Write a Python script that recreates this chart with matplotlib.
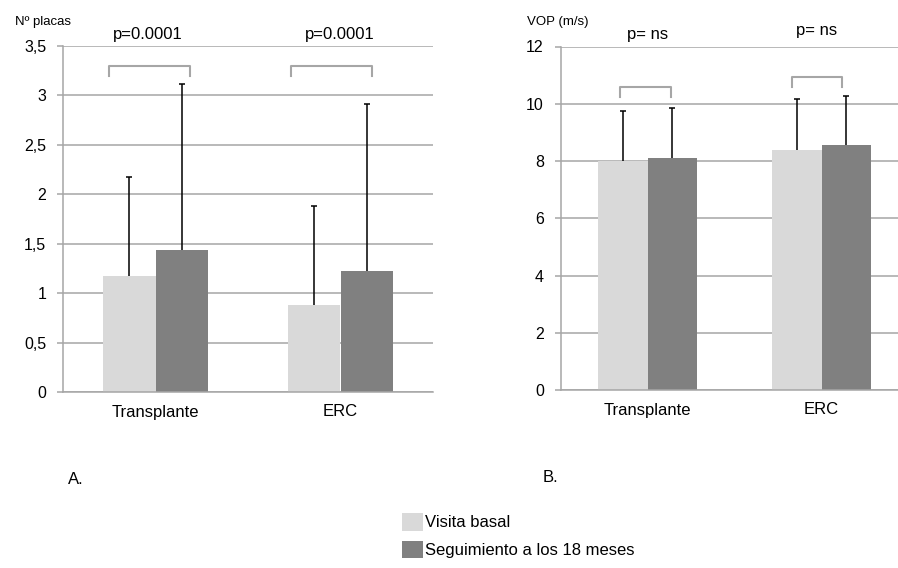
import numpy as np
import matplotlib.pyplot as plt
from matplotlib.patches import Patch

plt.rcParams['font.family'] = ['Liberation Sans', 'DejaVu Sans']

# data
CATEGORIES = ['Transplante', 'ERC']
SERIES = ['Visita basal', 'Seguimiento a los 18 meses']

PLACAS_BASAL = [1.17, 0.88]
PLACAS_18M = [1.44, 1.22]
PLACAS_BASAL_SD = [1.00, 1.00]
PLACAS_18M_SD = [1.68, 1.69]
PLACAS_P = ['p=0.0001', 'p=0.0001']

VOP_BASAL = [8.00, 8.38]
VOP_18M = [8.11, 8.57]
VOP_BASAL_SD = [1.74, 1.77]
VOP_18M_SD = [1.74, 1.70]
VOP_P = ['p= ns', 'p= ns']

LIGHT = '#d9d9d9'
DARK = '#808080'
AXISGREY = '#a6a6a6'
BAR_W = 0.285


def UpperErrorBar(ax, x, y, sd):
    '''
    Error bar drawn only upwards, without the cap at the bar top.
    '''
    eb = ax.errorbar(x, y, yerr=[np.zeros(len(x)), sd], fmt='none',
                     ecolor='black', elinewidth=1.1, capsize=2.5,
                     capthick=1.1, zorder=3)
    eb[1][0].set_visible(False)


def DrawPanel(ax, basal, seg, basalSd, segSd, yMax, yStep, yLabel, pTexts,
              pY, pX, brackets, commaTicks, labelX):
    x = np.arange(len(CATEGORIES))
    ax.bar(x - BAR_W / 2, basal, BAR_W, color=LIGHT, zorder=2)
    ax.bar(x + BAR_W / 2, seg, BAR_W, color=DARK, zorder=2)

    UpperErrorBar(ax, x - BAR_W / 2, basal, basalSd)
    UpperErrorBar(ax, x + BAR_W / 2, seg, segSd)

    # significance brackets
    for (x0, x1, yLow, yHigh) in brackets:
        ax.plot([x0, x0, x1, x1], [yLow, yHigh, yHigh, yLow], color=AXISGREY,
                lw=1.5, clip_on=False, zorder=3)

    for i in range(len(pTexts)):
        ax.text(pX[i], pY[i], pTexts[i], ha='center', va='center',
                fontsize=12, clip_on=False)

    ax.set_xlim(-0.5, len(CATEGORIES) - 0.5)
    ax.set_ylim(0, yMax)
    ticks = np.arange(0, yMax + yStep / 2, yStep)
    ax.set_yticks(ticks)
    if commaTicks:
        ax.set_yticklabels([('%g' % t).replace('.', ',') for t in ticks])
    ax.set_xticks(x)
    ax.set_xticklabels(CATEGORIES, fontsize=12)

    ax.grid(axis='y', color=AXISGREY, lw=1.1, zorder=0)
    ax.set_axisbelow(True)
    for s in ['top', 'right']:
        ax.spines[s].set_visible(False)
    for s in ['left', 'bottom']:
        ax.spines[s].set_color(AXISGREY)
        ax.spines[s].set_linewidth(1.1)
    ax.tick_params(axis='y', length=4, width=1.1, color=AXISGREY, pad=8,
                   labelsize=11.5)
    ax.tick_params(axis='x', length=0, pad=9)
    ax.text(labelX, 1.07, yLabel, transform=ax.transAxes, fontsize=9.5,
            ha='left', va='center')


fig = plt.figure(figsize=(8.98, 5.68), dpi=100)

axA = fig.add_axes([63 / 898, 176 / 568, 370 / 898, 346 / 568])
DrawPanel(axA, PLACAS_BASAL, PLACAS_18M, PLACAS_BASAL_SD, PLACAS_18M_SD,
          3.5, 0.5, 'Nº placas', PLACAS_P, [3.62, 3.62], [-0.04, 0.997],
          [(-0.25, 0.186, 3.20, 3.30), (0.732, 1.17, 3.20, 3.30)], True,
          -0.13)

axB = fig.add_axes([560.5 / 898, 178 / 568, 348 / 898, 343.5 / 568])
DrawPanel(axB, VOP_BASAL, VOP_18M, VOP_BASAL_SD, VOP_18M_SD,
          12, 2, 'VOP (m/s)', VOP_P, [12.41, 12.55], [0.003, 0.974],
          [(-0.158, 0.135, 10.23, 10.57), (0.83, 1.118, 10.6, 10.92)], False,
          -0.095)

fig.text(68 / 898, 1 - 479 / 568, 'A.', fontsize=12, va='center')
fig.text(543 / 898, 1 - 478 / 568, 'B.', fontsize=12, va='center')

handles = [Patch(facecolor=LIGHT, edgecolor='none'),
           Patch(facecolor=DARK, edgecolor='none')]
fig.legend(handles, SERIES, loc='upper left',
           bbox_to_anchor=(402 / 898, 1 - 513 / 568), frameon=False,
           fontsize=12, handlelength=1.26, handleheight=1.26,
           handletextpad=0.12, labelspacing=0.6, borderpad=0,
           borderaxespad=0)

fig.savefig('out.png', dpi=100)
